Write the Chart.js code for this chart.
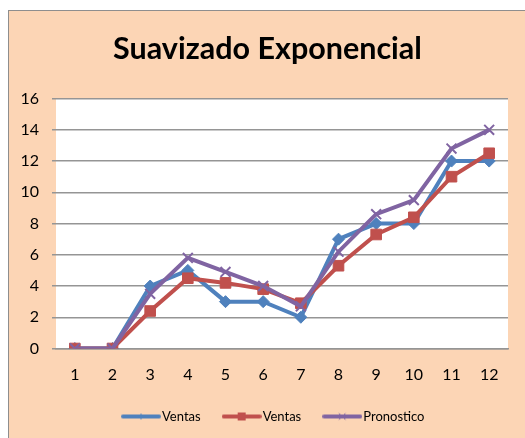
<!DOCTYPE html>
<html>
<head>
<meta charset="utf-8">
<script src="https://cdn.jsdelivr.net/npm/chart.js@4/dist/chart.umd.min.js"></script>
<style>
  html, body { margin: 0; padding: 0; background: #ffffff; overflow: hidden; }
  #frame {
    position: absolute; left: 8px; top: 10px;
    width: 530px; height: 440px;
    background: #FCD5B5; border: 1px solid #8e8e8e;
  }
  #chart { position: absolute; left: 0; top: 0; }
</style>
</head>
<body>
<div id="frame"><canvas id="chart" width="516" height="427"></canvas></div>
<script>
const categories = ['1', '2', '3', '4', '5', '6', '7', '8', '9', '10', '11', '12'];
const ventas = [0, 0, 4, 5, 3, 3, 2, 7, 8, 8, 12, 12];
const ventasSuavizadas = [0, 0, 2.4, 4.5, 4.2, 3.8, 2.9, 5.3, 7.3, 8.4, 11, 12.5];
const pronostico = [0, 0, 3.5, 5.8, 4.9, 4.0, 2.7, 6.2, 8.6, 9.5, 12.8, 14.0];
const yTicks = [0, 2, 4, 6, 8, 10, 12, 14, 16];

const BLUE = '#4F81BD';
const RED = '#C0504D';
const PURPLE = '#8064A2';
const GRID = '#959595';

// small line+marker swatch for the legend, like Excel draws it
function swatch(color, marker) {
    const c = document.createElement('canvas');
    c.width = 40; c.height = 12;
    const g = c.getContext('2d');
    g.strokeStyle = color; g.fillStyle = color;
    g.lineWidth = 4; g.lineCap = 'round';
    g.beginPath(); g.moveTo(2, 6); g.lineTo(38, 6); g.stroke();
    g.lineWidth = 1;
    if (marker === 'diamond') {
        g.beginPath(); g.moveTo(20, 3); g.lineTo(23, 6); g.lineTo(20, 9); g.lineTo(17, 6); g.closePath(); g.fill();
    } else if (marker === 'square') {
        g.fillRect(16, 2, 8, 8);
    } else {
        g.beginPath(); g.moveTo(17, 3); g.lineTo(23, 9); g.moveTo(23, 3); g.lineTo(17, 9); g.stroke();
    }
    return c;
}
const swatches = [swatch(BLUE, 'diamond'), swatch(RED, 'square'), swatch(PURPLE, 'cross')];

const plotBackground = {
    id: 'plotBackground',
    beforeDraw(chart) {
        const a = chart.chartArea;
        chart.ctx.save();
        chart.ctx.fillStyle = '#ffffff';
        chart.ctx.fillRect(a.left, a.top, a.right - a.left, a.bottom - a.top);
        chart.ctx.restore();
    }
};

// in the Excel chart, title and legend sit a bit right of the canvas centre
const nudgeBlocks = {
    id: 'nudgeBlocks',
    afterLayout(chart) {
        chart.titleBlock.left += 9;
        chart.titleBlock.right += 9;
        chart.legend.left += 17;
        chart.legend.right += 17;
    }
};

new Chart(document.getElementById('chart'), {
    type: 'line',
    data: {
        labels: categories,
        datasets: [{
            label: 'Ventas',
            data: ventas,
            borderColor: BLUE,
            backgroundColor: BLUE,
            borderWidth: 4,
            pointStyle: 'rectRot',
            pointRadius: 6,
            pointBorderWidth: 1,
            order: 2
        }, {
            label: 'Ventas',
            data: ventasSuavizadas,
            borderColor: RED,
            backgroundColor: RED,
            borderWidth: 4,
            pointStyle: 'rect',
            pointRadius: 7.5,
            pointBorderWidth: 1,
            order: 1
        }, {
            label: 'Pronostico',
            data: pronostico,
            borderColor: PURPLE,
            backgroundColor: PURPLE,
            borderWidth: 4,
            pointStyle: 'crossRot',
            pointRadius: 7,
            pointBorderWidth: 2,
            order: 0
        }]
    },
    options: {
        responsive: false,
        animation: false,
        layout: { padding: { left: 0, right: 17, top: 0, bottom: 5 } },
        elements: { line: { tension: 0 } },
        plugins: {
            tooltip: { enabled: false },
            title: {
                display: true,
                text: 'Suavizado Exponencial',
                color: '#000000',
                font: { family: 'Lato', size: 30.5, weight: 'bold' },
                padding: { top: 20, bottom: 31 }
            },
            legend: {
                position: 'bottom',
                labels: {
                    color: '#000000',
                    font: { family: 'Lato', size: 13 },
                    usePointStyle: true,
                    pointStyleWidth: 29,
                    padding: 26.5,
                    sort: (a, b) => a.datasetIndex - b.datasetIndex,
                    generateLabels(chart) {
                        const items = Chart.defaults.plugins.legend.labels.generateLabels(chart);
                        items.forEach(it => { it.pointStyle = swatches[it.datasetIndex]; });
                        return items;
                    }
                }
            }
        },
        scales: {
            x: {
                offset: true,
                afterFit(scale) { scale.height = 35; },
                grid: { display: false, drawTicks: false },
                border: { display: true, color: GRID, width: 1.5 },
                ticks: { color: '#000000', font: { family: 'Lato', size: 16 }, padding: 17 }
            },
            y: {
                min: 0,
                max: 16,
                afterFit(scale) { scale.width = 47; },
                afterBuildTicks(scale) { scale.ticks = yTicks.map(v => ({ value: v })); },
                grid: { color: GRID, lineWidth: 1.5, tickLength: 4 },
                border: { display: false },
                ticks: { color: '#000000', font: { family: 'Lato', size: 16 }, padding: 13 }
            }
        }
    },
    plugins: [plotBackground, nudgeBlocks]
});
</script>
</body>
</html>
